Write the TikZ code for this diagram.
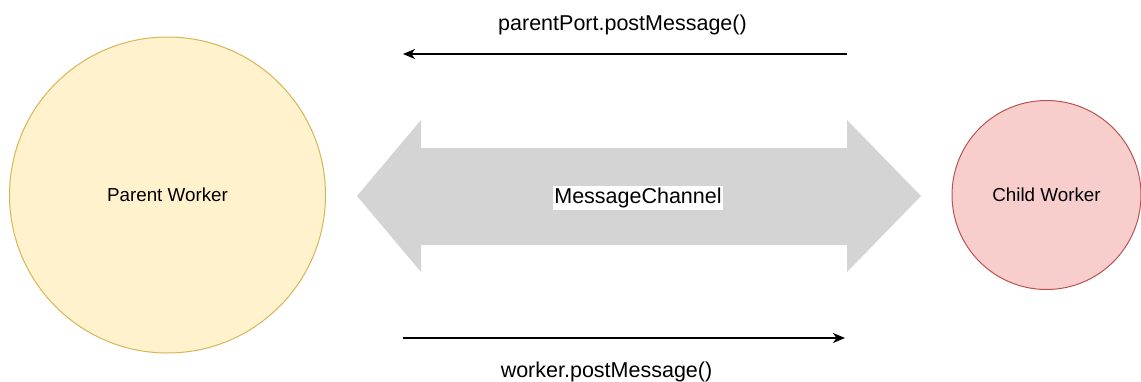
\documentclass[tikz,border=0pt]{standalone}
\usepackage{fontspec}
\setmainfont{Liberation Sans}
\usetikzlibrary{arrows.meta}
\definecolor{pfill}{HTML}{FFF2CC}
\definecolor{pdraw}{HTML}{D6B656}
\definecolor{cfill}{HTML}{F8CECC}
\definecolor{cdraw}{HTML}{B85450}
\definecolor{chgray}{HTML}{D4D4D4}
\tikzset{
  worker/.style={circle, line width=1pt, inner sep=0pt, font=\fontsize{18.8}{22}\selectfont},
  msg/.style={line width=1.3pt, -{Stealth[length=12pt,width=10pt,inset=3.5pt]}},
  lbl/.style={anchor=base, inner sep=0pt, font=\fontsize{21.5}{25}\selectfont}
}
\begin{document}
\begin{tikzpicture}[x=1pt,y=-1pt]
\useasboundingbox (0,0) rectangle (1141,381);
\node[worker, fill=pfill, draw=pdraw, minimum size=316pt] (parent) at (167.5,195) {Parent Worker};
\node[worker, fill=cfill, draw=cdraw, minimum size=189pt] (child) at (1046.5,195) {Child Worker};
\fill[chgray] (357,196) -- (421,120) -- (421,148) -- (847,148) -- (847,120) -- (921,196)
  -- (847,272) -- (847,245) -- (421,245) -- (421,272) -- cycle;
\node[fill=white, inner sep=1.5pt, font=\fontsize{21.5}{25}\selectfont] (chan) at (638,198) {MessageChannel};
\coordinate (t1) at (847,54);
\coordinate (t2) at (403,54);
\draw[msg] (t1) -- (t2);
\node[lbl] (tl) at (622.5,30) {parentPort.postMessage()};
\coordinate (b1) at (403,338);
\coordinate (b2) at (845,338);
\draw[msg] (b1) -- (b2);
\node[lbl] (bl) at (606.5,377) {worker.postMessage()};
\end{tikzpicture}
\end{document}
